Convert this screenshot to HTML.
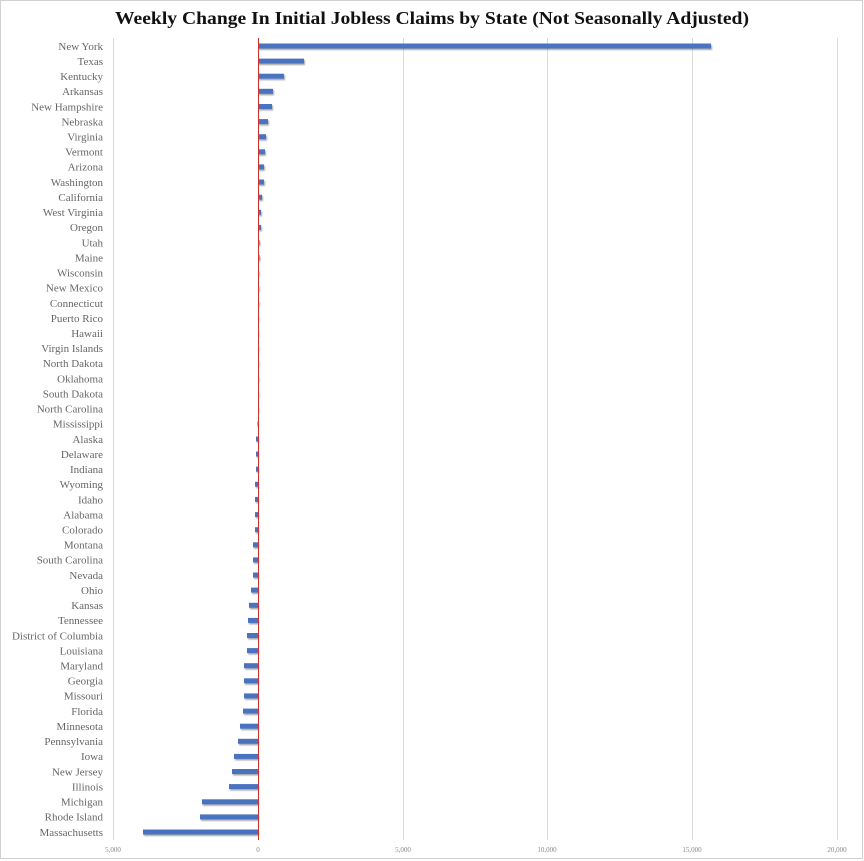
<!DOCTYPE html>
<html><head><meta charset="utf-8"><style>
html,body{margin:0;padding:0;background:#fff;width:864px;height:861px;overflow:hidden}
</style></head><body>
<svg id="s" width="864" height="861" xmlns="http://www.w3.org/2000/svg">
<defs><filter id="sh" x="-5%" y="-50%" width="110%" height="250%"><feDropShadow dx="1" dy="1.5" stdDeviation="0.8" flood-color="#000" flood-opacity="0.35"/></filter></defs>
<rect x="0.5" y="0.5" width="862" height="858" fill="#fff" stroke="#d0d0d0"/>
<text x="432" y="24" text-anchor="middle" font-family="Liberation Serif, serif" font-weight="bold" font-size="18" textLength="634" lengthAdjust="spacingAndGlyphs" fill="#111">Weekly Change In Initial Jobless Claims by State (Not Seasonally Adjusted)</text>
<g stroke="#d9d9d9" stroke-width="1">
<line x1="113.5" y1="38" x2="113.5" y2="840"/>
<line x1="403.5" y1="38" x2="403.5" y2="840"/>
<line x1="547.5" y1="38" x2="547.5" y2="840"/>
<line x1="692.5" y1="38" x2="692.5" y2="840"/>
<line x1="837.5" y1="38" x2="837.5" y2="840"/>
</g>
<g font-family="Liberation Serif, serif" font-size="7" fill="#888" text-anchor="middle">
<text x="113" y="852">5,000</text><text x="258" y="852">0</text><text x="403" y="852">5,000</text><text x="547" y="852">10,000</text><text x="692" y="852">15,000</text><text x="837" y="852">20,000</text>
</g>
<g id="bars" filter="url(#sh)" fill="#4a72c0"></g>
<g id="labs" font-family="Liberation Serif, serif" font-size="11" fill="#666" text-anchor="end"></g>
<line x1="258.5" y1="38" x2="258.5" y2="840" stroke="#d0302a" stroke-width="1"/>
</svg>
<script>
var d=[["New York",711],["Texas",304],["Kentucky",284],["Arkansas",273],["New Hampshire",272],["Nebraska",268],["Virginia",266],["Vermont",265],["Arizona",264],["Washington",264],["California",262],["West Virginia",261],["Oregon",261],["Utah",259.5],["Maine",259.5],["Wisconsin",259],["New Mexico",259],["Connecticut",259],["Puerto Rico",258.5],["Hawaii",258.5],["Virgin Islands",258.5],["North Dakota",258.5],["Oklahoma",258],["South Dakota",258],["North Carolina",258],["Mississippi",257.5],["Alaska",256],["Delaware",256],["Indiana",256],["Wyoming",255],["Idaho",255],["Alabama",255],["Colorado",255],["Montana",253],["South Carolina",253],["Nevada",253],["Ohio",251],["Kansas",249],["Tennessee",248],["District of Columbia",247],["Louisiana",247],["Maryland",244],["Georgia",244],["Missouri",244],["Florida",243],["Minnesota",240],["Pennsylvania",238],["Iowa",234],["New Jersey",232],["Illinois",229],["Michigan",202],["Rhode Island",200],["Massachusetts",143]];
var ns="http://www.w3.org/2000/svg",b=document.getElementById("bars"),l=document.getElementById("labs");
d.forEach(function(r,i){var y=46+i*15.115;
var t=document.createElementNS(ns,"text");t.setAttribute("x",103);t.setAttribute("y",(y+3.8).toFixed(1));t.textContent=r[0];l.appendChild(t);
var x0=258,x1=r[1];var rc=document.createElementNS(ns,"rect");rc.setAttribute("x",Math.min(x0,x1));rc.setAttribute("y",(y-2.5).toFixed(1));rc.setAttribute("width",Math.max(0.6,Math.abs(x1-x0)));rc.setAttribute("height",5);b.appendChild(rc);});
</script>
</body></html>
